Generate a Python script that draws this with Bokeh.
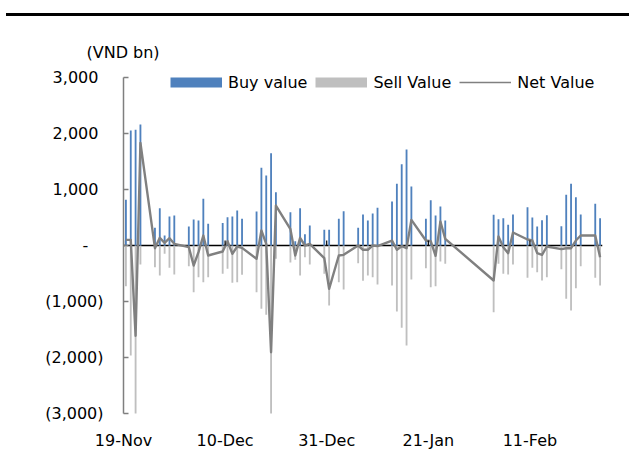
import datetime as dt
from bokeh.plotting import figure
from bokeh.layouts import column
from bokeh.models import (Range1d, FixedTicker, Span, Legend, LegendItem, Title, Div)
from bokeh.embed import file_html
from bokeh.resources import INLINE

# ---- data (VND bn) ----
dates = [
    "2019-11-19", "2019-11-20", "2019-11-21", "2019-11-22",
    "2019-11-25", "2019-11-26", "2019-11-27", "2019-11-28", "2019-11-29",
    "2019-12-02", "2019-12-03", "2019-12-04", "2019-12-05", "2019-12-06",
    "2019-12-09", "2019-12-10", "2019-12-11", "2019-12-12", "2019-12-13",
    "2019-12-16", "2019-12-17", "2019-12-18", "2019-12-19", "2019-12-20",
    "2019-12-23", "2019-12-24", "2019-12-25", "2019-12-26", "2019-12-27",
    "2019-12-30", "2019-12-31", "2020-01-02", "2020-01-03",
    "2020-01-06", "2020-01-07", "2020-01-08", "2020-01-09", "2020-01-10",
    "2020-01-13", "2020-01-14", "2020-01-15", "2020-01-16", "2020-01-17",
    "2020-01-20", "2020-01-21", "2020-01-22", "2020-01-23", "2020-01-24",
    "2020-02-03", "2020-02-04", "2020-02-05", "2020-02-06", "2020-02-07",
    "2020-02-10", "2020-02-11", "2020-02-12", "2020-02-13", "2020-02-14",
    "2020-02-17", "2020-02-18", "2020-02-19", "2020-02-20", "2020-02-21",
    "2020-02-24", "2020-02-25",
]
buy_value = [
    815, 2054, 2065, 2160,
    315, 667, 180, 518, 536,
    340, 464, 446, 833, 387,
    400, 506, 518, 625, 476,
    607, 1387, 1250, 1649, 952,
    595, 77, 667, 202, 357,
    280, 280, 476, 613,
    315, 554, 446, 571, 673,
    786, 1101, 1452, 1714, 1054,
    476, 810, 536, 696, 446,
    548, 470, 488, 369, 554,
    685, 500, 339, 452, 542,
    345, 905, 1101, 863, 554,
    744, 488,
]
sell_value = [
    -726, -1964, -3680, -339,
    -387, -536, -149, -399, -518,
    -369, -833, -565, -655, -565,
    -506, -417, -667, -655, -524,
    -833, -1131, -1238, -3554, -238,
    -303, -256, -536, -208, -339,
    -506, -1071, -655, -785,
    -315, -631, -536, -565, -696,
    -714, -1179, -1470, -1786, -607,
    -405, -744, -726, -286, -327,
    -1190, -327, -506, -518, -339,
    -577, -399, -476, -625, -565,
    -423, -952, -1161, -762, -369,
    -577, -714,
]
net_value = [
    100, 100, -1613, 1833,
    -48, 137, 48, 131, 30,
    -30, -357, -119, 178, -179,
    -107, 77, -149, -18, -42,
    -238, 268, 30, -1905, 714,
    292, -179, 137, 0, 30,
    -226, -774, -179, -167,
    0, -77, -77, 0, -12,
    89, -77, -12, -48, 458,
    89, 77, -185, 429, 119,
    -625, 161, -30, -137, 232,
    107, 89, -137, -167, -18,
    -65, -50, -48, 89, 179,
    179, -208,
]
series_names = ["Buy value", "Sell Value", "Net Value"]
y_ticks = [-3000, -2000, -1000, 0, 1000, 2000, 3000]
y_tick_labels = ["(3,000)", "(2,000)", "(1,000)", "-", "1,000", "2,000", "3,000"]
x_tick_dates = ["2019-11-19", "2019-12-10", "2019-12-31", "2020-01-21", "2020-02-11"]
x_tick_labels = ["19-Nov", "10-Dec", "31-Dec", "21-Jan", "11-Feb"]
unit_label = "(VND bn)"

# ---- helpers ----
EPOCH = dt.datetime(1970, 1, 1)
DAY_MS = 86400000.0
NAN = float("nan")


def to_ms(d):
    return (dt.datetime.fromisoformat(d) - EPOCH).total_seconds() * 1000.0


x_mid = [to_ms(d) + DAY_MS / 2 for d in dates]   # columns centred in their day
tick_ms = [to_ms(d) for d in x_tick_dates]

FONT = "DejaVu Sans"
BLUE = "#4F81BD"
GREY = "#BFBFBF"
NET = "#808080"

# layout (pixels)
W, H = 629, 446
B_LEFT, B_RIGHT, B_TOP, B_BOTTOM = 123, 27, 50, 49
AXIS_SPAN_PX = 336          # pixels between -3000 and 3000
frame_h = H - B_TOP - B_BOTTOM
y_lo, y_hi = y_ticks[0], y_ticks[-1]
y_top = y_lo + (y_hi - y_lo) * frame_h / AXIS_SPAN_PX   # head-room for the legend

p = figure(width=W, height=H, x_axis_type="datetime",
           x_range=Range1d(start=to_ms(dates[0]), end=to_ms(dates[-1]) + DAY_MS),
           y_range=Range1d(start=y_lo, end=y_top),
           output_backend="svg", toolbar_location=None,
           min_border_left=B_LEFT, min_border_right=B_RIGHT,
           min_border_top=B_TOP, min_border_bottom=B_BOTTOM)
p.background_fill_color = "white"
p.border_fill_color = "white"
p.outline_line_color = None
p.xgrid.visible = False
p.ygrid.visible = False

# unit label as a left-aligned title
p.title = Title(text=unit_label, align="left", offset=-37, standoff=10,
                text_font=FONT, text_font_size="16px", text_font_style="normal",
                text_color="black")

# x axis: labels only
xa = p.xaxis[0]
xa.ticker = FixedTicker(ticks=tick_ms, minor_ticks=[])
xa.major_label_overrides = {t: lab for t, lab in zip(tick_ms, x_tick_labels)}
xa.axis_line_color = None
xa.major_tick_line_color = None
xa.minor_tick_line_color = None
xa.major_label_standoff = 11
xa.major_label_text_font = FONT
xa.major_label_text_font_size = "16px"
xa.major_label_text_color = "black"

# y axis
pad = {0: "\u2007\u2008"}
ya = p.yaxis[0]
ya.bounds = (y_lo, y_hi)
ya.ticker = FixedTicker(ticks=y_ticks, minor_ticks=[])
ya.major_label_overrides = {
    t: (lab if t < 0 else lab + pad.get(t, "\u2008"))
    for t, lab in zip(y_ticks, y_tick_labels)
}
ya.axis_line_color = "#7F7F7F"
ya.axis_line_width = 1.5
ya.major_tick_line_color = "#7F7F7F"
ya.major_tick_line_width = 1.5
ya.major_tick_in = 5
ya.major_tick_out = 0
ya.minor_tick_line_color = None
ya.major_label_standoff = 20
ya.major_label_text_font = FONT
ya.major_label_text_font_size = "16px"
ya.major_label_text_color = "black"

# zero line (category axis)
p.add_layout(Span(location=0, dimension="width", line_color="black",
                  line_width=1.5, level="underlay"))

bar_w = 0.38 * DAY_MS
p.vbar(x=x_mid, top=sell_value, bottom=0, width=bar_w, fill_color=GREY,
       line_color=None)
p.vbar(x=x_mid, top=buy_value, bottom=0, width=bar_w, fill_color=BLUE,
       line_color=None)
p.line(x=x_mid, y=net_value, line_color=NET, line_width=2.4, line_join="round")

# small axis tick marks on the zero line
p.segment(x0=tick_ms, y0=[0] * len(tick_ms), x1=tick_ms, y1=[90] * len(tick_ms),
          line_color="black", line_width=1.2)

# legend proxies (a single NaN point: nothing drawn in the plot area)
lg_buy = p.line(x=[NAN], y=[NAN], line_color=BLUE, line_width=10, line_cap="butt")
lg_sell = p.line(x=[NAN], y=[NAN], line_color=GREY, line_width=10, line_cap="butt")
lg_net = p.line(x=[NAN], y=[NAN], line_color=NET, line_width=1.4)
legend = Legend(items=[LegendItem(label=series_names[0], renderers=[lg_buy]),
                       LegendItem(label=series_names[1], renderers=[lg_sell]),
                       LegendItem(label=series_names[2], renderers=[lg_net])],
                orientation="horizontal", location=(47, 321),
                glyph_width=52, glyph_height=12, label_height=20,
                label_standoff=6, spacing=8, padding=0, margin=0,
                border_line_alpha=0, background_fill_alpha=0,
                label_text_font=FONT, label_text_font_size="16px",
                label_text_color="black")
p.add_layout(legend)

# heavy rule across the top of the page
rule = Div(text="", width=623, height=16, margin=(0, 0, 0, 6),
           styles={"border-bottom": "3px solid black", "box-sizing": "border-box"})

layout = column(rule, p, spacing=0)
open("out.html", "w").write(file_html(layout, INLINE))
